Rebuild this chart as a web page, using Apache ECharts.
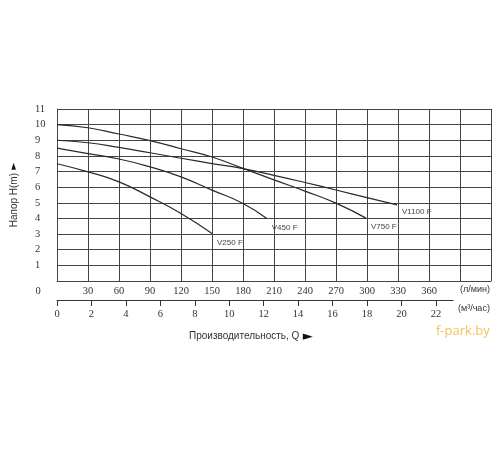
<!DOCTYPE html>
<html><head><meta charset="utf-8">
<script src="https://cdn.jsdelivr.net/npm/echarts@6/dist/echarts.min.js"></script>
<style>html,body{margin:0;padding:0;background:#fff}#c{width:500px;height:450px}</style>
</head><body><div id="c"></div>
<script>
// ---- data (Q in l/min, H in m) ----
const seriesNames = ['V250 F', 'V450 F', 'V750 F', 'V1100 F'];
const qV250  = [0, 30, 60, 90, 120, 150];
const hV250  = [7.5, 6.98, 6.34, 5.38, 4.32, 3.04];
const qV450  = [0, 30, 60, 90, 120, 150, 180, 203];
const hV450  = [8.5, 8.15, 7.8, 7.3, 6.66, 5.81, 4.96, 4.0];
const qV750  = [0, 30, 60, 90, 120, 150, 180, 210, 240, 270, 299];
const hV750  = [10, 9.8, 9.4, 8.98, 8.46, 7.93, 7.2, 6.47, 5.75, 4.98, 4.02];
const qV1100 = [0, 30, 60, 90, 120, 150, 180, 210, 240, 270, 300, 329];
const hV1100 = [9.0, 8.84, 8.54, 8.2, 7.85, 7.51, 7.19, 6.76, 6.3, 5.82, 5.33, 4.87];
const lminTickLabels = [30, 60, 90, 120, 150, 180, 210, 240, 270, 300, 330, 360];
const m3hTickLabels  = [0, 2, 4, 6, 8, 10, 12, 14, 16, 18, 20, 22];
const hTickLabels    = [1, 2, 3, 4, 5, 6, 7, 8, 9, 10, 11];
const yTitle = 'Напор H(m)';
const xTitle = 'Производительность, Q';
const unitLmin = '(л/мин)';
const unitM3h = '(м³/час)';
const watermark = 'f-park.by';

// ---- layout ----
const L = 57, QMAX = 420, W = 434, pxPerQ = W / QMAX;
const pxPerM3h = pxPerQ * 1000 / 60;
const labelOffsets = [9, 9, 9, 7];
const gridColor = '#444';
const serif = 'Liberation Serif';

function pairs(q, h) { return q.map((v, i) => [v, h[i]]); }
const curves = [pairs(qV250, hV250), pairs(qV450, hV450), pairs(qV750, hV750), pairs(qV1100, hV1100)];

const chart = echarts.init(document.getElementById('c'), null, {renderer: 'canvas'});
chart.setOption({
  animation: false,
  backgroundColor: '#fff',
  grid: [
    {left: L, top: 109, width: W, height: 172, outerBoundsMode: 'none', containLabel: false},
    {left: L, top: 200, width: 23 * pxPerM3h, height: 100, outerBoundsMode: 'none', containLabel: false},
    {left: L, top: 200, width: 22 * pxPerM3h, height: 100, outerBoundsMode: 'none', containLabel: false}
  ],
  xAxis: [
    {gridIndex: 0, type: 'value', min: 0, max: QMAX, interval: 30,
     axisLine: {show: true, lineStyle: {color: gridColor, width: 1}},
     axisTick: {show: false},
     axisLabel: {margin: 5, fontFamily: serif, fontSize: 10.5, color: '#333',
       formatter: v => lminTickLabels.includes(v) ? String(v) : ''},
     splitLine: {show: true, lineStyle: {color: gridColor, width: 1}}},
    {gridIndex: 1, type: 'value', min: 0, max: 23,
     axisLine: {show: true, lineStyle: {color: '#333', width: 1}},
     axisTick: {show: false}, axisLabel: {show: false}, splitLine: {show: false}},
    {gridIndex: 2, type: 'value', min: 0, max: 22, interval: 2,
     axisLine: {show: false},
     axisTick: {show: true, length: 6, lineStyle: {color: '#333'}},
     axisLabel: {margin: 9, fontFamily: serif, fontSize: 10.5, color: '#333',
       formatter: v => m3hTickLabels.includes(v) ? String(v) : ''},
     splitLine: {show: false}}
  ],
  yAxis: [
    {gridIndex: 0, type: 'value', min: 0, max: 11, interval: 1,
     axisLine: {show: true, lineStyle: {color: gridColor, width: 1}},
     axisTick: {show: false},
     axisLabel: {align: 'left', margin: 22, fontFamily: serif, fontSize: 10.5, color: '#333',
       formatter: v => hTickLabels.includes(v) ? String(v) : ''},
     splitLine: {show: true, lineStyle: {color: gridColor, width: 1}},
     name: '{t|' + yTitle + '} {a|►}', nameLocation: 'middle', nameRotate: 90, nameGap: 37,
     nameTextStyle: {rich: {
       t: {fontFamily: 'Liberation Sans', fontSize: 10, color: '#333'},
       a: {fontFamily: 'DejaVu Sans', fontSize: 9, color: '#111'}}}},
    {gridIndex: 1, type: 'value', show: false},
    {gridIndex: 2, type: 'value', show: false}
  ],
  series: curves.map((d, i) => ({
    type: 'line', name: seriesNames[i], xAxisIndex: 0, yAxisIndex: 0,
    data: d, smooth: 0.5, showSymbol: false, symbol: 'none',
    lineStyle: {color: '#2a2a2a', width: 1.2},
    endLabel: {show: true, formatter: '{a}', distance: 5, offset: [0, labelOffsets[i]],
      fontFamily: 'Liberation Sans', fontSize: 8, color: '#444'}
  })),
  graphic: [
    {type: 'text', left: 35.5, top: 286, style: {text: '0', font: '10.5px "Liberation Serif"', fill: '#333'}},
    {type: 'text', left: 460, top: 285, style: {text: unitLmin, font: '9px "Liberation Sans"', fill: '#333'}},
    {type: 'text', left: 458, top: 304, style: {text: unitM3h, font: '9px "Liberation Sans"', fill: '#333'}},
    {type: 'text', left: 189, top: 330, style: {
      text: '{t|' + xTitle + '} {a|►}',
      rich: {t: {fontFamily: 'Liberation Sans', fontSize: 10, fill: '#333'},
             a: {fontFamily: 'DejaVu Sans', fontSize: 13, fill: '#111'}}}},
    {type: 'text', left: 436, top: 325, style: {text: watermark, font: '13px "Open Sans"', fill: '#f2c25a'}}
  ]
});
</script></body></html>
